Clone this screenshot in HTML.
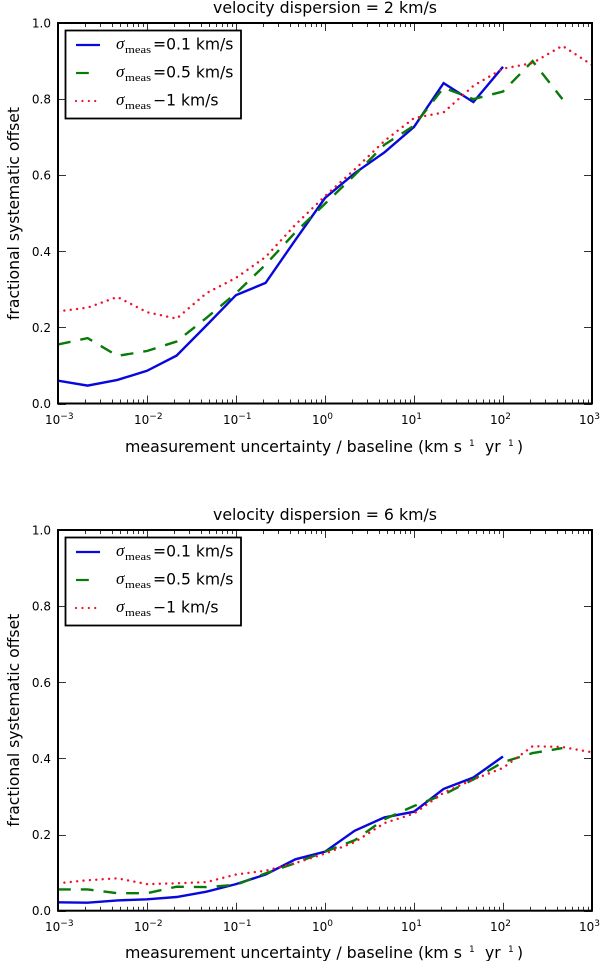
<!DOCTYPE html>
<html lang="en">
<head>
<meta charset="utf-8">
<title>Fractional systematic offset vs measurement uncertainty</title>
<style>
html,body{margin:0;padding:0;background:#fff;width:600px;height:961px;overflow:hidden}
svg{display:block}
text{font-family:"DejaVu Sans","Liberation Sans",sans-serif;fill:#000}
.title,.axlabel{font-size:15.6px}
.leg{font-size:15.6px}
.sig{font-family:"Liberation Serif","DejaVu Serif",serif;font-style:italic;font-size:17px}
.sub{font-family:"Liberation Serif","DejaVu Serif",serif;font-size:10px}
.tick{font-size:12px}
.sup{font-size:9px}
</style>
</head>
<body>
<svg id="fig" width="600" height="961" viewBox="0 0 600 961" xmlns="http://www.w3.org/2000/svg">
  <rect width="600" height="961" fill="#fff"/>

  <g id="panel-top">
    <text class="title" x="325" y="13" text-anchor="middle" textLength="224" lengthAdjust="spacingAndGlyphs">velocity dispersion = 2 km/s</text>
    <text class="axlabel" transform="translate(19,213.5) rotate(-90)" text-anchor="middle" textLength="213" lengthAdjust="spacingAndGlyphs">fractional systematic offset</text>
    <g>
      <text class="axlabel" x="125" y="452" textLength="337" lengthAdjust="spacingAndGlyphs">measurement uncertainty / baseline (km s</text>
      <text class="sup" x="469" y="446">1</text>
      <text class="axlabel" x="485" y="452">yr</text>
      <text class="sup" x="508" y="446">1</text>
      <text class="axlabel" x="517" y="452">)</text>
    </g>
  </g>

  <g id="panel-bottom">
    <text class="title" x="325" y="520" text-anchor="middle" textLength="224" lengthAdjust="spacingAndGlyphs">velocity dispersion = 6 km/s</text>
    <text class="axlabel" transform="translate(19,720.2) rotate(-90)" text-anchor="middle" textLength="213" lengthAdjust="spacingAndGlyphs">fractional systematic offset</text>
    <g>
      <text class="axlabel" x="125" y="958" textLength="337" lengthAdjust="spacingAndGlyphs">measurement uncertainty / baseline (km s</text>
      <text class="sup" x="469" y="952">1</text>
      <text class="axlabel" x="485" y="958">yr</text>
      <text class="sup" x="508" y="952">1</text>
      <text class="axlabel" x="517" y="958">)</text>
    </g>
  </g>
</svg>

<script>
// Shared x categories: log10 of measurement uncertainty / baseline
const logUncertainty = [-3, -2.667, -2.333, -2, -1.667, -1.333, -1, -0.667, -0.333, 0, 0.333, 0.667, 1, 1.333, 1.667, 2, 2.333, 2.667, 3];
const xTickExponents = [-3, -2, -1, 0, 1, 2, 3];
const yTickValues = [0.0, 0.2, 0.4, 0.6, 0.8, 1.0];
const yTickLabels = ["0.0", "0.2", "0.4", "0.6", "0.8", "1.0"];
const minorTickFactors = [2, 3, 4, 5, 6, 7, 8, 9];

// Velocity dispersion = 2 km/s
const topMeas01 = [0.060, 0.047, 0.062, 0.086, 0.126, 0.205, 0.285, 0.317, 0.430, 0.540, 0.605, 0.660, 0.727, 0.842, 0.792, 0.885];
const topMeas05 = [0.155, 0.172, 0.125, 0.138, 0.163, 0.225, 0.290, 0.365, 0.450, 0.525, 0.600, 0.680, 0.730, 0.830, 0.800, 0.820, 0.900, 0.800];
const topMeas1 = [0.242, 0.252, 0.280, 0.240, 0.223, 0.290, 0.330, 0.385, 0.470, 0.545, 0.615, 0.690, 0.750, 0.765, 0.835, 0.880, 0.895, 0.940, 0.890];

// Velocity dispersion = 6 km/s
const botMeas01 = [0.022, 0.021, 0.027, 0.030, 0.036, 0.050, 0.070, 0.095, 0.135, 0.155, 0.210, 0.245, 0.260, 0.320, 0.350, 0.405];
const botMeas05 = [0.056, 0.056, 0.046, 0.046, 0.063, 0.062, 0.068, 0.098, 0.125, 0.155, 0.185, 0.240, 0.275, 0.305, 0.345, 0.390, 0.414, 0.427];
const botMeas1 = [0.072, 0.080, 0.085, 0.070, 0.072, 0.075, 0.095, 0.105, 0.125, 0.150, 0.180, 0.230, 0.255, 0.310, 0.345, 0.375, 0.432, 0.430, 0.416];

const legendLabels = ["=0.1 km/s", "=0.5 km/s", "\u22121 km/s"];

const NS = "http://www.w3.org/2000/svg";
function mk(parent, tag, attrs, txt) {
  const el = document.createElementNS(NS, tag);
  for (const k in attrs) el.setAttribute(k, attrs[k]);
  if (txt !== undefined) el.textContent = txt;
  parent.appendChild(el);
  return el;
}

const LEFT = 58, RIGHT = 592;
const xScale = v => LEFT + (v + 3) / 6 * (RIGHT - LEFT);

const seriesStyles = [
  {name: "series-sigma-0-1", color: "#0808dc", dash: null, cap: "butt"},
  {name: "series-sigma-0-5", color: "#087a08", dash: "12.8 10", cap: "butt"},
  {name: "series-sigma-1", color: "#f0102c", dash: "0.01 6.4", cap: "round"}
];

function drawPanel(rootId, clipId, top, bottom, series) {
  const root = document.getElementById(rootId);
  const yScale = v => bottom - v * (bottom - top);

  const defs = mk(root, "defs", {});
  const cp = mk(defs, "clipPath", {id: clipId});
  mk(cp, "rect", {x: LEFT, y: top, width: RIGHT - LEFT, height: bottom - top});

  // series
  series.forEach((vals, s) => {
    const st = seriesStyles[s];
    const pts = vals.map((v, i) => xScale(logUncertainty[i]).toFixed(1) + "," + yScale(v).toFixed(1)).join(" ");
    const line = mk(root, "polyline", {points: pts, fill: "none", stroke: st.color, "stroke-width": s === 2 ? 2.4 : 2.4, "stroke-linecap": st.cap, "stroke-linejoin": "miter", "clip-path": "url(#" + clipId + ")"});
    if (st.dash) line.setAttribute("stroke-dasharray", st.dash);
    
    
  });

  // x ticks
  const xTicks = mk(root, "g", {stroke: "#333", "stroke-width": 1});
  
  
  xTickExponents.forEach(e => {
    const x = Math.round(xScale(e)) + 0.5;
    mk(xTicks, "line", {x1: x, x2: x, y1: bottom, y2: bottom - 8});
    mk(xTicks, "line", {x1: x, x2: x, y1: top, y2: top + 8});
    if (e < 3) minorTickFactors.forEach(f => {
      const mx = Math.round(xScale(e + Math.log10(f))) + 0.5;
      mk(xTicks, "line", {x1: mx, x2: mx, y1: bottom, y2: bottom - 4});
      mk(xTicks, "line", {x1: mx, x2: mx, y1: top, y2: top + 4});
    });
    const lab = mk(root, "text", {class: "tick", x: xScale(e) - 13, y: bottom + 20.5});
    
    
    lab.textContent = "10";
    const sup = mk(lab, "tspan", {dy: -5, "font-size": 9}, (e < 0 ? "\u2212" : "") + Math.abs(e));
    sup.setAttribute('fill', '#000');
  });

  // y ticks
  const yTicks = mk(root, "g", {stroke: "#333", "stroke-width": 1});
  
  
  yTickValues.forEach((v, i) => {
    const y = Math.round(yScale(v)) + 0.5;
    mk(yTicks, "line", {x1: LEFT, x2: LEFT + 8, y1: y, y2: y});
    mk(yTicks, "line", {x1: RIGHT, x2: RIGHT - 8, y1: y, y2: y});
    const lab = mk(root, "text", {class: "tick", x: 51, y: yScale(v) + 4.5, "text-anchor": "end"}, yTickLabels[i]);
    
    
  });

  // frame
  const frame = mk(root, "rect", {x: LEFT, y: top, width: RIGHT - LEFT, height: bottom - top, fill: "none", stroke: "#000", "stroke-width": 2});
  
  

  // legend
  const lg = mk(root, "g", {});
  
  
  const ly = top + 7.5;
  mk(lg, "rect", {x: 65.5, y: ly, width: 175.5, height: 88, fill: "#fff", stroke: "#000", "stroke-width": 1.8});
  legendLabels.forEach((label, i) => {
    const rowY = ly + 14.5 + i * 28;
    const st = seriesStyles[i];
    const entry = mk(lg, "g", {});
    
    
    const x2 = i === 0 ? 100 : (i === 1 ? 89 : 96);
    const key = mk(entry, "line", {x1: 76, x2: x2, y1: rowY, y2: rowY, stroke: st.color, "stroke-width": 2.2, "stroke-linecap": st.cap});
    if (st.dash) key.setAttribute("stroke-dasharray", st.dash);
    mk(entry, "text", {class: "sig", x: 116, y: rowY + 4}, "\u03c3");
    mk(entry, "text", {class: "sub", x: 125, y: rowY + 8, textLength: 26, lengthAdjust: "spacingAndGlyphs"}, "meas");
    mk(entry, "text", {class: "leg", x: 153, y: rowY + 4.5}, label);
  });
}

drawPanel("panel-top", "clip-top", 23, 403.5, [topMeas01, topMeas05, topMeas1]);
drawPanel("panel-bottom", "clip-bottom", 530, 910.7, [botMeas01, botMeas05, botMeas1]);
</script>
</body>
</html>
